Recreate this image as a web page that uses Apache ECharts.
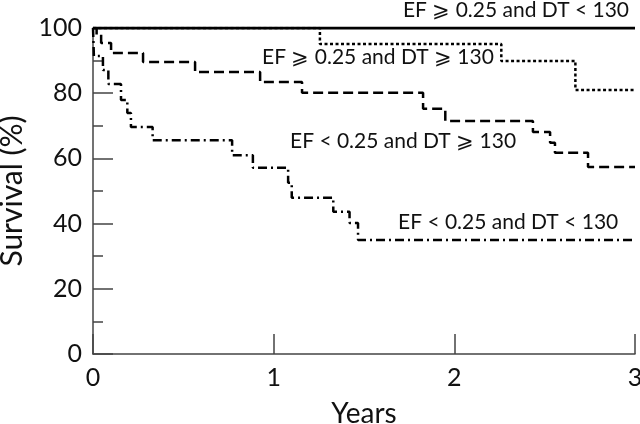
<!DOCTYPE html>
<html><head><meta charset="utf-8">
<script src="https://cdn.jsdelivr.net/npm/echarts@6/dist/echarts.min.js"></script>
<style>html,body{margin:0;padding:0;background:#fff}#c{width:640px;height:424px}</style>
</head><body><div id="c"></div>
<script>
// Kaplan-Meier step curves: event times (years) and survival (%) after each step
const solidT = [0, 3];
const solidS = [100, 100];
const dottedT = [0, 1.256, 2.26, 2.67, 3];
const dottedS = [100, 95.1, 89.9, 81.0, 81.0];
const dashedT = [0, 0.02, 0.045, 0.10, 0.277, 0.565, 0.925, 1.157, 1.827, 1.95, 2.435, 2.53, 2.557, 2.74, 3];
const dashedS = [100, 98.0, 95.4, 92.3, 89.6, 86.5, 83.4, 80.1, 75.2, 71.5, 68.1, 64.8, 61.7, 57.4, 57.4];
const dashdotT = [0, 0.005, 0.055, 0.085, 0.155, 0.19, 0.21, 0.33, 0.77, 0.885, 1.08, 1.1, 1.33, 1.42, 1.467, 3];
const dashdotS = [100, 91.4, 87.1, 82.8, 77.9, 73.9, 69.6, 65.6, 61.0, 57.1, 52.5, 47.9, 43.6, 40.2, 35.0, 35.0];
const xTicks = [0, 1, 2, 3];
const yTicks = [0, 20, 40, 60, 80, 100];
const curveLabels = ['EF \u2A7E 0.25 and DT < 130', 'EF \u2A7E 0.25 and DT \u2A7E 130', 'EF < 0.25 and DT \u2A7E 130', 'EF < 0.25 and DT < 130'];

const pairs = (t, s) => t.map((v, i) => [v, s[i]]);
const FONT = 'Lato';
const chart = echarts.init(document.getElementById('c'));
const mk = (name, t, s, type, w) => ({
  name, type: 'line', step: 'end', data: pairs(t, s), symbol: 'none',
  lineStyle: { color: '#000', width: w, type: type }, animation: false
});
chart.setOption({
  animation: false,
  grid: { left: 93, right: 5, top: 28, bottom: 70, containLabel: false, outerBoundsMode: 'none' },
  xAxis: {
    type: 'value', min: xTicks[0], max: xTicks[xTicks.length - 1], interval: 1,
    name: 'Years', nameLocation: 'middle', nameGap: 46,
    nameTextStyle: { fontFamily: FONT, fontSize: 28, color: '#111' },
    axisLine: { lineStyle: { color: '#444', width: 1.5 } },
    axisTick: { inside: true, length: 20, lineStyle: { color: '#444', width: 1.5 } },
    axisLabel: { fontFamily: FONT, fontSize: 25, color: '#111', margin: 11 },
    splitLine: { show: false }
  },
  yAxis: {
    type: 'value', min: yTicks[0], max: yTicks[yTicks.length - 1], interval: 20,
    name: 'Survival (%)', nameLocation: 'middle', nameGap: 60,
    nameTextStyle: { fontFamily: FONT, fontSize: 30, color: '#111' },
    axisLine: { show: true, lineStyle: { color: '#444', width: 1.5 } },
    axisTick: { show: true, inside: true, length: 20, lineStyle: { color: '#444', width: 1.5 } },
    minorTick: { show: true, splitNumber: 2, length: 10, lineStyle: { color: '#444', width: 1.5 } },
    axisLabel: { fontFamily: FONT, fontSize: 25, color: '#111', margin: 11 },
    splitLine: { show: false }
  },
  series: [
    mk(curveLabels[0], solidT, solidS, 'solid', 3),
    mk(curveLabels[1], dottedT, dottedS, [3, 2.5], 2.5),
    mk(curveLabels[2], dashedT, dashedS, [10, 5], 2.5),
    mk(curveLabels[3], dashdotT, dashdotS, [9, 4, 2, 4], 2.5)
  ],
  graphic: [
    { type: 'text', right: 11, top: 0, style: { text: curveLabels[0], font: '21px ' + FONT, fill: '#111' } },
    { type: 'text', left: 262, top: 47, style: { text: curveLabels[1], font: '21px ' + FONT, fill: '#111' } },
    { type: 'text', left: 290, top: 131, style: { text: curveLabels[2], font: '21px ' + FONT, fill: '#111' } },
    { type: 'text', left: 398, top: 212, style: { text: curveLabels[3], font: '21px ' + FONT, fill: '#111' } }
  ]
});
</script></body></html>
